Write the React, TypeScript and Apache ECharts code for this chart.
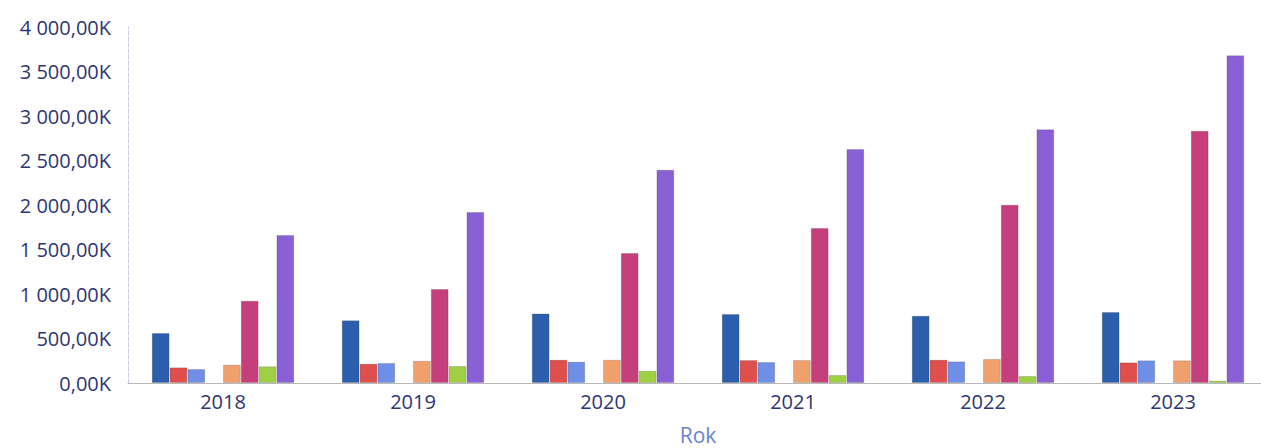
import React, { useEffect, useRef } from "react";
import * as echarts from "echarts";

const years = ["2018", "2019", "2020", "2021", "2022", "2023"];
const seriesBlue = [562, 705, 782, 775, 756, 798];
const seriesRed = [176, 217, 262, 258, 262, 232];
const seriesLightBlue = [157, 225, 240, 236, 243, 255];
const seriesEmpty: (number | null)[] = [null, null, null, null, null, null];
const seriesOrange = [206, 250, 262, 258, 270, 255];
const seriesMagenta = [925, 1056, 1461, 1742, 2003, 2835];
const seriesGreen = [188, 191, 138, 90, 79, 27];
const seriesPurple = [1663, 1921, 2397, 2630, 2850, 3682];

const colors = ["#2b5fad", "#df4f4c", "#6f8ee6", "#ffffff", "#f0a06c", "#c53f7c", "#9fd043", "#8a60d6"];
const allSeries = [seriesBlue, seriesRed, seriesLightBlue, seriesEmpty, seriesOrange, seriesMagenta, seriesGreen, seriesPurple];

function fmt(v: number): string {
  const s = v.toFixed(2);
  const [ip, dp] = s.split(".");
  const withSpace = ip.replace(/\B(?=(\d{3})+(?!\d))/g, " ");
  return withSpace + "," + dp + "K";
}

export default function App() {
  const ref = useRef<HTMLDivElement>(null);
  useEffect(() => {
    document.body.style.margin = "0";
    const chart = echarts.init(ref.current!, null, { renderer: "svg" });
    chart.setOption({
      animation: false,
      backgroundColor: "#ffffff",
      grid: { left: 128, top: 27, width: 1140, bottom: 65, containLabel: false, outerBoundsMode: "none" },
      xAxis: {
        type: "category",
        data: years,
        name: "Rok",
        nameLocation: "middle",
        nameGap: 41,
        nameTextStyle: { color: "#6b82d2", fontSize: 21, fontFamily: "Open Sans" },
        axisLine: { show: true, lineStyle: { color: "#b8b8b8", width: 1 } },
        axisTick: { show: false },
        axisLabel: { color: "#2d3672", fontSize: 20, margin: 8, fontFamily: "Open Sans" },
      },
      yAxis: {
        type: "value",
        min: 0,
        max: 4000,
        interval: 500,
        axisLine: { show: true, lineStyle: { color: "#c4cce6", type: "dashed", width: 1 } },
        axisTick: { show: false },
        splitLine: { show: false },
        axisLabel: { color: "#2d3672", fontSize: 20, margin: 17, fontFamily: "Open Sans", formatter: (v: number) => fmt(v) },
      },
      series: allSeries.map((d, i) => ({
        type: "bar",
        data: d,
        barGap: "0%",
        barCategoryGap: "25%",
        itemStyle: { color: colors[i], borderColor: i === 3 ? "transparent" : "rgba(0,0,0,0.15)", borderWidth: 1 },
      })),
    });
    return () => chart.dispose();
  }, []);
  return <div ref={ref} style={{ width: 1261, height: 448 }} />;
}
